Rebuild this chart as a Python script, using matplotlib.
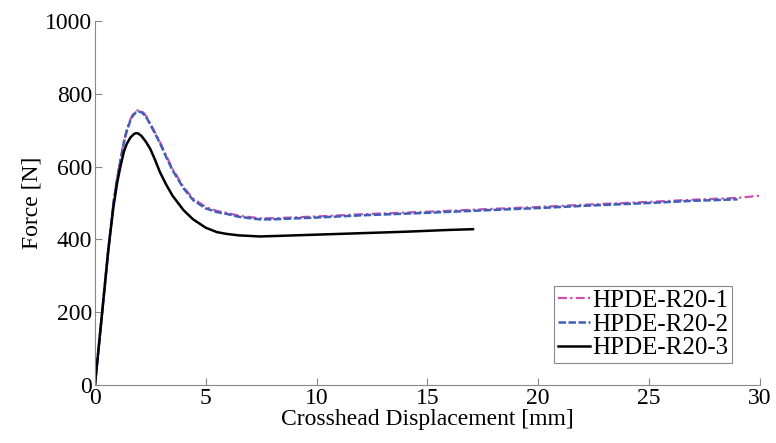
import matplotlib.pyplot as plt

# force-displacement curves
x1 = [0, 0.3, 0.6, 0.83, 1.0, 1.13, 1.3, 1.43, 1.6, 1.7, 1.85, 1.95, 2.1, 2.2, 2.35, 2.5, 2.7,
      2.93, 3.2, 3.5, 4.0, 4.43, 5.0, 5.5, 5.94, 6.5, 7.44, 8.0, 10, 12, 15, 18, 20, 22,
      25, 27, 29, 30]
f1 = [0, 185, 370, 500, 570, 612, 668, 700, 730, 742, 752, 755, 752, 747, 735, 718, 695,
      668, 632, 594, 543, 512, 489, 478, 473, 465, 458, 458, 463, 469, 476, 484, 489, 495,
      503, 509, 514, 520]
x2 = [0, 0.3, 0.6, 0.83, 1.0, 1.13, 1.3, 1.43, 1.6, 1.7, 1.85, 1.95, 2.1, 2.2, 2.35, 2.5, 2.7,
      2.93, 3.2, 3.5, 4.0, 4.43, 5.0, 5.5, 5.94, 6.5, 7.44, 8.0, 10, 12, 15, 18, 20, 22,
      25, 27, 29]
f2 = [0, 185, 370, 498, 567, 610, 665, 697, 727, 739, 749, 752, 749, 744, 732, 715, 692,
      665, 628, 590, 540, 508, 485, 475, 470, 462, 455, 455, 460, 466, 473, 481, 486, 492,
      500, 506, 510]
x3 = [0, 0.3, 0.6, 0.83, 1.0, 1.13, 1.3, 1.43, 1.6, 1.75, 1.85, 1.95, 2.1, 2.3, 2.5, 2.7,
      2.93, 3.2, 3.5, 4.0, 4.43, 5.0, 5.5, 5.94, 6.5, 7.44, 8.5, 10, 12, 14, 16, 17.06]
f3 = [0, 185, 370, 488, 555, 595, 640, 662, 680, 689, 692, 691, 684, 668, 648, 620,
      585, 552, 520, 480, 455, 432, 420, 415, 411, 408, 410, 413, 417, 421, 426, 428]

plt.rcParams['font.family'] = ['Liberation Serif', 'DejaVu Serif']

fig = plt.figure(figsize=(7.76, 4.43), dpi=100)
ax = fig.add_axes([0.1224, 0.131, 0.8566, 0.8216])

ax.plot(x1, f1, c='#cc4fb0', ls=(0, (4, 1.5, 1, 1.5)), lw=1.6, label="HPDE-R20-1")
ax.plot(x2, f2, c='#3f5fb5', ls=(0, (3, 1)), lw=1.8, label="HPDE-R20-2")
ax.plot(x3, f3, c='black', ls='-', lw=1.8, label="HPDE-R20-3")

ax.set_xlim(0, 30)
ax.set_ylim(0, 1000)
ax.set_xticks(range(0, 31, 5))
ax.set_yticks(range(0, 1001, 200))
ax.tick_params(direction='in', length=5, color='#888888', labelsize=17, pad=2)
for s in ['top', 'right']:
    ax.spines[s].set_visible(False)
for s in ['left', 'bottom']:
    ax.spines[s].set_color('#888888')
ax.set_xlabel("Crosshead Displacement [mm]", fontsize=17, labelpad=0)
ax.set_ylabel("Force [N]", fontsize=17, labelpad=2)

leg = ax.legend(loc='lower right', bbox_to_anchor=(0.959, 0.06), fontsize=18,
                handlelength=1.3, handletextpad=0.1, borderpad=0.15, labelspacing=0.05,
                fancybox=False, framealpha=1, borderaxespad=0)
leg.get_frame().set_edgecolor('#888888')
leg.get_frame().set_linewidth(0.8)

fig.savefig("out.png", dpi=100)
